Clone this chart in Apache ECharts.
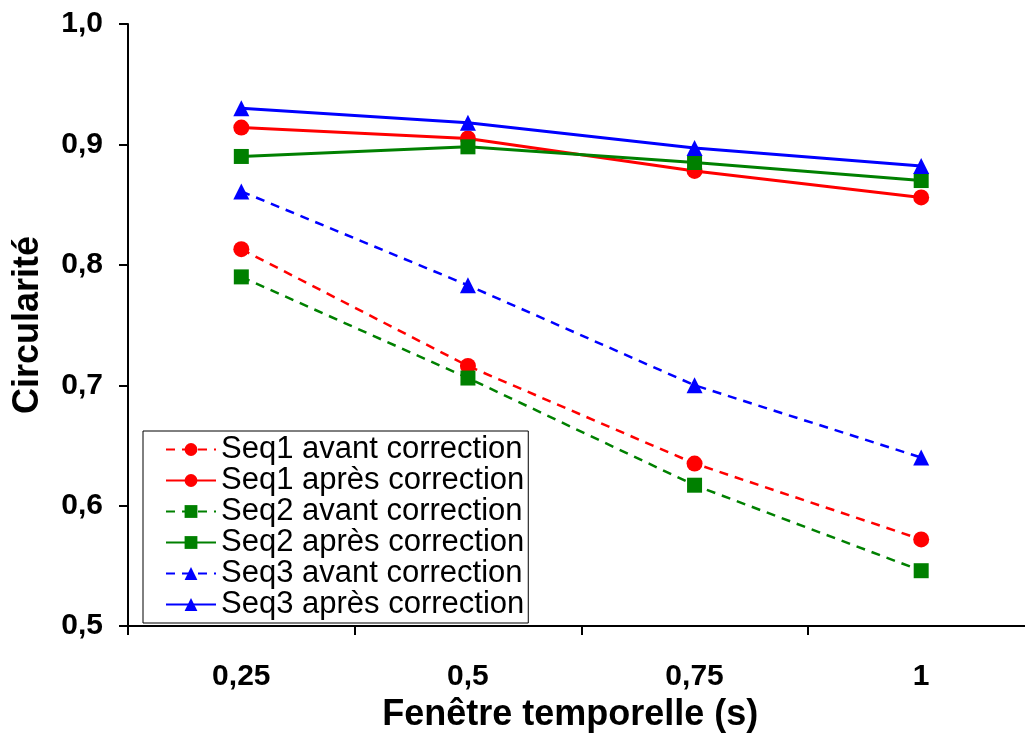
<!DOCTYPE html>
<html>
<head>
<meta charset="utf-8">
<script src="https://cdn.jsdelivr.net/npm/echarts@6/dist/echarts.min.js"></script>
<style>html,body{margin:0;padding:0;background:#fff;overflow:hidden}#c{width:1035px;height:738px}</style>
</head>
<body>
<div id="c"></div>
<script>
var categories = ['0,25', '0,5', '0,75', '1'];
var seq1Avant = [0.813, 0.716, 0.635, 0.572];
var seq1Apres = [0.914, 0.905, 0.878, 0.856];
var seq2Avant = [0.790, 0.706, 0.617, 0.546];
var seq2Apres = [0.890, 0.898, 0.885, 0.870];
var seq3Avant = [0.861, 0.783, 0.700, 0.640];
var seq3Apres = [0.930, 0.918, 0.897, 0.882];
var seriesNames = ['Seq1 avant correction', 'Seq1 après correction', 'Seq2 avant correction', 'Seq2 après correction', 'Seq3 avant correction', 'Seq3 après correction'];
var yTicks = [0.5, 0.6, 0.7, 0.8, 0.9, 1.0];

var FONT = 'Liberation Sans, Arial, sans-serif';
function mk(name, data, color, symbol, dashed) {
  return {
    name: name, type: 'line', data: data,
    symbol: symbol, symbolSize: symbol === 'triangle' ? 16 : (symbol === 'rect' ? 15 : 16),
    showSymbol: true,
    itemStyle: { color: color },
    lineStyle: { color: color, width: dashed ? 2.5 : 3, type: dashed ? [9, 7] : 'solid' },
    emphasis: { disabled: true },
    animation: false
  };
}
var chart = echarts.init(document.getElementById('c'), null, { renderer: 'canvas' });
chart.setOption({
  backgroundColor: '#fff',
  animation: false,
  grid: { left: 128, top: 24, bottom: 111, right: 0.5, containLabel: false },
  legend: {
    orient: 'vertical', left: 143, top: 431,
    padding: [3, 4, 3, 22], itemGap: 0, itemWidth: 50, itemHeight: 16,
    borderColor: '#000', borderWidth: 1, backgroundColor: '#fff',
    textStyle: { fontFamily: FONT, fontSize: 31, color: '#000', lineHeight: 30 },
    data: seriesNames
  },
  xAxis: {
    type: 'category', data: categories, boundaryGap: true,
    axisLine: { lineStyle: { color: '#000', width: 2 } },
    axisTick: { show: true, length: 9, alignWithLabel: false, lineStyle: { color: '#000', width: 2 } },
    axisLabel: { margin: 36, fontFamily: FONT, fontWeight: 'bold', fontSize: 30, color: '#000' },
    name: 'Fenêtre temporelle (s)', nameLocation: 'middle', nameGap: 68,
    nameTextStyle: { fontFamily: FONT, fontWeight: 'bold', fontSize: 36, color: '#000', padding: [0, 22, 0, 0] }
  },
  yAxis: {
    type: 'value', min: 0.5, max: 1.0, interval: 0.1,
    axisLine: { show: true, lineStyle: { color: '#000', width: 2 } },
    axisTick: { show: true, length: 9, lineStyle: { color: '#000', width: 2 } },
    splitLine: { show: false },
    axisLabel: {
      margin: 25, fontFamily: FONT, fontWeight: 'bold', fontSize: 30, color: '#000',
      formatter: function (v) { return v.toFixed(1).replace('.', ','); }
    },
    name: 'Circularité', nameLocation: 'middle', nameGap: 82,
    nameTextStyle: { fontFamily: FONT, fontWeight: 'bold', fontSize: 36, color: '#000' }
  },
  series: [
    mk(seriesNames[0], seq1Avant, '#ff0000', 'circle', true),
    mk(seriesNames[1], seq1Apres, '#ff0000', 'circle', false),
    mk(seriesNames[2], seq2Avant, '#008000', 'rect', true),
    mk(seriesNames[3], seq2Apres, '#008000', 'rect', false),
    mk(seriesNames[4], seq3Avant, '#0000ff', 'triangle', true),
    mk(seriesNames[5], seq3Apres, '#0000ff', 'triangle', false)
  ]
});
</script>
</body>
</html>
